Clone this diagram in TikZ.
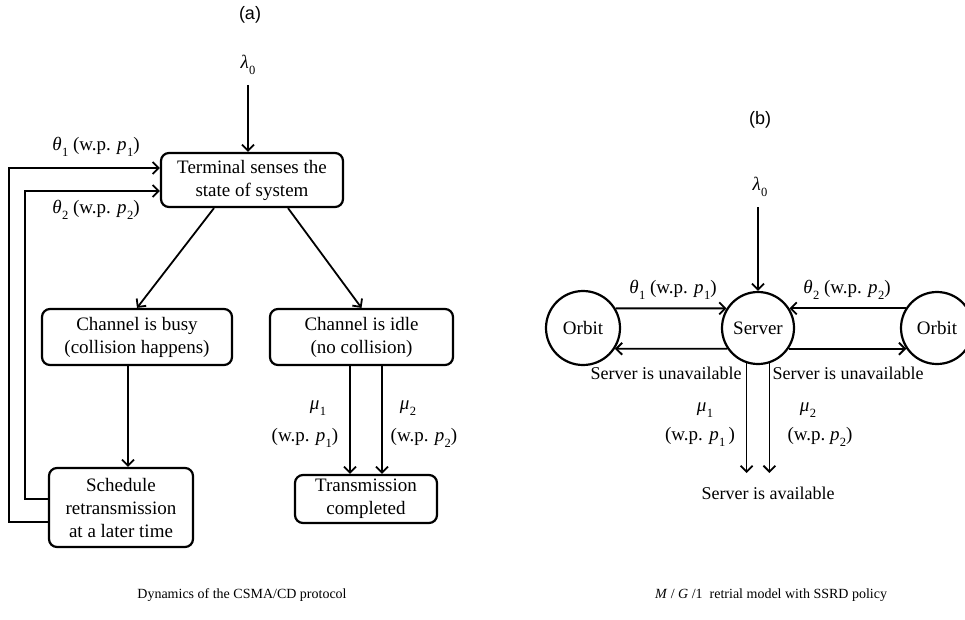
\documentclass[tikz,border=0pt]{standalone}
\usepackage{fontspec}
\usepackage{graphicx}
\setmainfont{Liberation Serif}
\newfontfamily\arialfont{Liberation Sans}
\usetikzlibrary{arrows.meta}
\newcommand\vs[2]{\textit{#1}\kern0.3pt\raisebox{-0.3em}{\scalebox{0.66}{#2}}}
\newcommand\fsA{\fontsize{19}{23}\selectfont}
\newcommand\fsB{\fontsize{18}{22}\selectfont}
\newcommand\fsC{\fontsize{14}{17}\selectfont}
\tikzset{
  box/.style={draw, line width=2.2pt, rounded corners=8pt, align=center, inner sep=0pt, font=\fsA},
  st/.style={circle, draw, line width=2.2pt, inner sep=0pt, font=\fsA},
  arr/.style={-{Straight Barb[length=6pt,width=12pt,line width=1.8pt]}, line width=1.8pt},
  lbl/.style={inner sep=0pt, font=\fsB},
  captxt/.style={inner sep=0pt, font=\fsC}
}
\begin{document}
\begin{tikzpicture}[x=1pt,y=-1pt]
\useasboundingbox (0,0) rectangle (965,619);
% ---------- (a) ----------
\node[lbl, font=\arialfont\fontsize{18}{22}\selectfont] (la) at (250,15) {(a)};
\node[lbl, font=\fsA] (lamA) at (248,65) {\vs{λ}{0}};
\node[box, minimum width=182pt, minimum height=54pt] (term) at (252,180) {Terminal senses the\\state of system};
\node[box, minimum width=190pt, minimum height=56pt] (busy) at (137,337) {Channel is busy\\(collision happens)};
\node[box, minimum width=183pt, minimum height=56pt] (idle) at (361.5,337) {Channel is idle\\(no collision)};
\node[box, minimum width=144pt, minimum height=79pt] (sched) at (121,507.5) {Schedule\\retransmission\\at a later time};
\node[box, minimum width=142pt, minimum height=48pt] (trans) at (366,499) {Transmission\\completed};

\draw[arr] ([yshift=-10pt]lamA.south) -- (lamA.south |- term.north);
\draw[arr] ([xshift=-38pt]term.south) -- (busy.north);
\draw[arr] ([xshift=36pt]term.south) -- (idle.north);
\draw[arr] ([xshift=-9pt]busy.south) -- ([xshift=-9pt]busy.south |- sched.north);
\draw[arr] ([yshift=-14.5pt]sched.west) -- ++(-39,0) |- ([yshift=12pt]term.west);
\draw[arr] ([yshift=8.5pt]sched.west) -- ++(-23,0) |- ([yshift=-11pt]term.west);
\draw[arr] ([xshift=-11.5pt]idle.south) -- ([xshift=-11.5pt]idle.south |- trans.north);
\draw[arr] ([xshift=20.5pt]idle.south) -- ([xshift=20.5pt]idle.south |- trans.north);

\node[lbl, font=\fsA] (th1) at (96,147) {\vs{θ}{1} (w.p. \vs{p}{1})};
\node[lbl, font=\fsA] (th2) at (96,210) {\vs{θ}{2} (w.p. \vs{p}{2})};
\node[lbl, font=\fsA] (mu1) at (318,408) {\vs{μ}{1}};
\node[lbl, font=\fsA] (wp1) at (305,438) {(w.p. \vs{p}{1})};
\node[lbl, font=\fsA] (mu2) at (408,408) {\vs{μ}{2}};
\node[lbl, font=\fsA] (wp2) at (424,438) {(w.p. \vs{p}{2})};

\node[captxt] (capA) at (242,595) {Dynamics of the CSMA/CD protocol};

% ---------- (b) ----------
\node[lbl, font=\arialfont\fontsize{18}{22}\selectfont] (lb) at (760,120) {(b)};
\node[lbl, font=\fsA] (lamB) at (760,187) {\vs{λ}{0}};
\node[st, minimum size=72pt] (server) at (758,328) {Server};
\node[st, minimum size=74pt] (orbL) at (583,328) {Orbit};
\node[st, minimum size=72pt] (orbR) at (937,328) {Orbit};
\coordinate (lamTop) at (758,207);
\coordinate (avail) at (758,473);

\draw[arr] (lamTop) -- (server.north);
\draw[arr] (orbL.31) -- (server.148);
\draw[arr] (server.214) -- (orbL.-33);
\draw[arr] (orbR.148) -- (server.32);
\draw[arr] (server.-34) -- (orbR.214);
\draw[arr] (server.252) -- (server.252 |- avail);
\draw[arr] (server.288) -- (server.288 |- avail);

\node[lbl, font=\fsA] (th1b) at (673,290) {\vs{θ}{1} (w.p. \vs{p}{1})};
\node[lbl, font=\fsA] (th2b) at (847,290) {\vs{θ}{2} (w.p. \vs{p}{2})};
\node[lbl] (unL) at (666,373) {Server is unavailable};
\node[lbl] (unR) at (848,373) {Server is unavailable};
\node[lbl, font=\fsA] (mu1b) at (705,410) {\vs{μ}{1}};
\node[lbl, font=\fsA] (wp1b) at (700,437) {(w.p. \vs{p}{1}\,)};
\node[lbl, font=\fsA] (mu2b) at (808,410) {\vs{μ}{2}};
\node[lbl, font=\fsA] (wp2b) at (820,437) {(w.p.\ \vs{p}{2})};
\node[lbl] (availT) at (768,493) {Server is available};

\node[captxt] (capB) at (771,595) {\textit{M} / \textit{G} /1\ \ retrial model with SSRD policy};
\end{tikzpicture}
\end{document}
